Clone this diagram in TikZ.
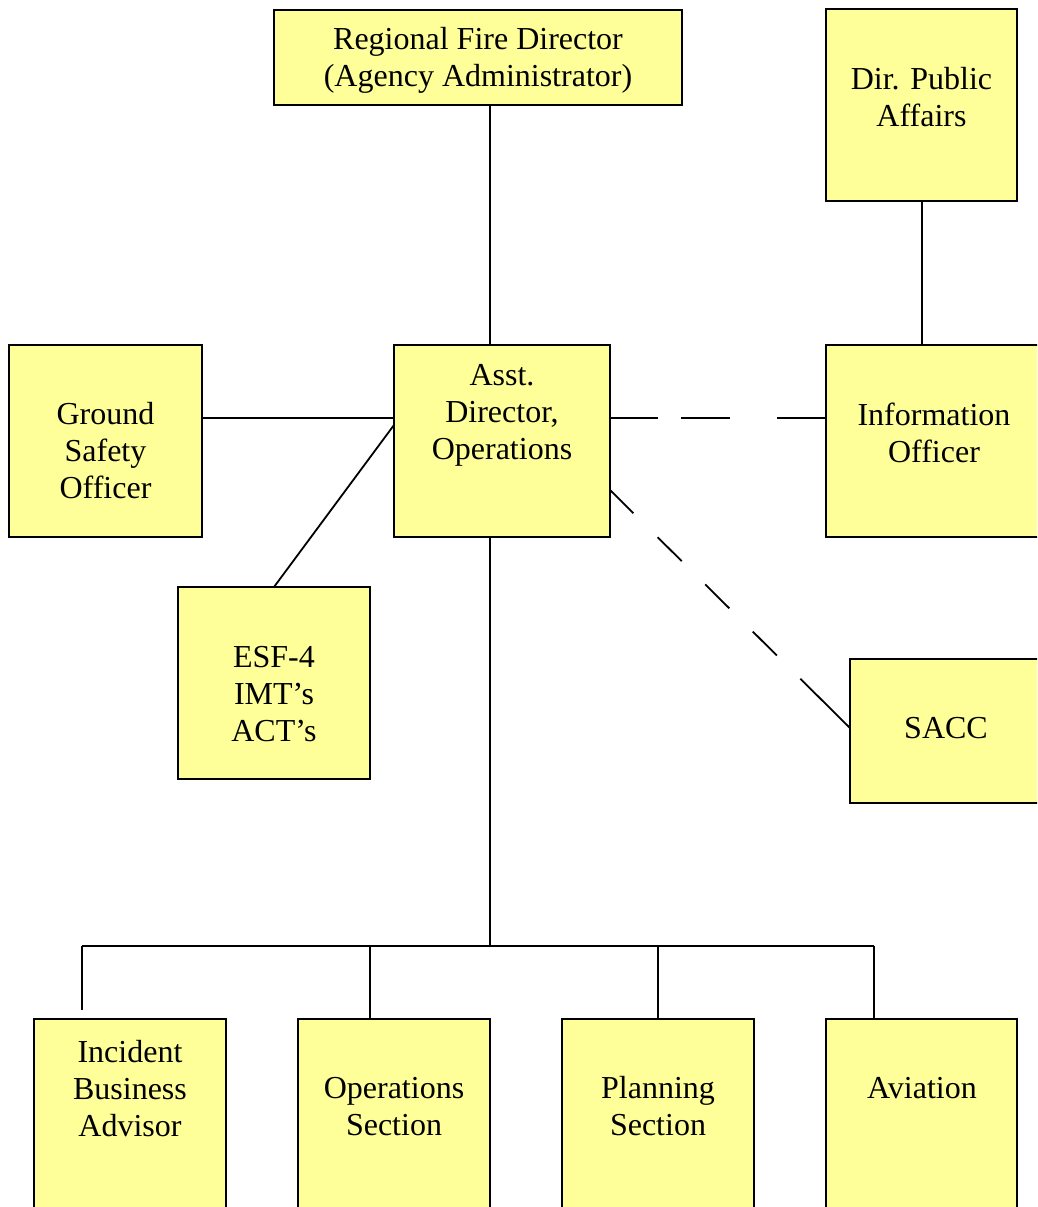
\documentclass[tikz,border=0pt]{standalone}
\usepackage{fontspec}
\setmainfont{Liberation Serif}
\usetikzlibrary{calc}
\definecolor{boxfill}{HTML}{FFFF99}
\begin{document}
\begin{tikzpicture}[x=1pt,y=-1pt,
  box/.style={draw=black, fill=boxfill, line width=2pt, inner sep=0pt, outer sep=0pt},
  txt/.style={align=center, inner sep=0pt, font=\fontsize{32}{37}\selectfont},
  conn/.style={line width=1.8pt},
  dashh/.style={conn, dash pattern=on 48pt off 23pt on 49pt off 47pt on 60pt off 1pt},
  dashd/.style={conn, dash pattern=on 33pt off 34pt on 34pt off 33pt on 34pt off 33pt on 34pt off 33pt on 90pt off 1pt}]
\useasboundingbox (0,0) rectangle (1037,1207);
\clip (0,0) rectangle (1037,1207);
% boxes
\node[box, minimum width=408pt, minimum height=95pt] (rfd) at (478,57.5) {};
\node[box, minimum width=191pt, minimum height=192pt] (dpa) at (921.5,105) {};
\node[box, minimum width=193pt, minimum height=192pt] (gso) at (105.5,441) {};
\node[box, minimum width=216pt, minimum height=192pt] (asst) at (502,441) {};
\node[box, minimum width=224pt, minimum height=192pt] (info) at (938,441) {};
\node[box, minimum width=192pt, minimum height=192pt] (esf) at (274,683) {};
\node[box, minimum width=200pt, minimum height=144pt] (sacc) at (950,731) {};
\node[box, minimum width=192pt, minimum height=201pt] (iba) at (130,1119.5) {};
\node[box, minimum width=192pt, minimum height=201pt] (ops) at (394,1119.5) {};
\node[box, minimum width=192pt, minimum height=201pt] (plan) at (658,1119.5) {};
\node[box, minimum width=191pt, minimum height=201pt] (avi) at (921.5,1119.5) {};
% texts
\node[txt] (trfd) at (478,60.5) {Regional Fire Director\\(Agency Administrator)};
\node[txt] (tdpa) at (921.5,97.5) {Dir. Public\\Affairs};
\node[txt] (tgso) at (105.5,451) {Ground\\Safety\\Officer};
\node[txt] (tasst) at (502,415) {Asst.\\Director,\\Operations};
\node[txt] (tinfo) at (934,432.5) {Information\\Officer};
\node[txt] (tesf) at (274,694.5) {ESF-4\\IMT’s\\ACT’s};
\node[txt] (tsacc) at (946,728) {SACC};
\node[txt] (tiba) at (130,1088.5) {Incident\\Business\\Advisor};
\node[txt] (tops) at (394,1106.5) {Operations\\Section};
\node[txt] (tplan) at (658,1106.5) {Planning\\Section};
\node[txt] (tavi) at (922,1088) {Aviation};
% coordinates
\coordinate (bus) at (490,946);
\coordinate (busL) at (82,946);
\coordinate (busR) at (874,946);
\coordinate (ibaend) at (82,1010);
\coordinate (busops) at (370,946);
\coordinate (busplan) at (658,946);
% connectors
\draw[conn] ([xshift=12pt]rfd.south) -- ([xshift=-12pt]asst.north);
\draw[conn] ([xshift=0.5pt]dpa.south) -- ([xshift=-16pt]info.north);
\draw[conn] ([yshift=23pt]gso.east) -- ([yshift=23pt]asst.west);
\draw[dashh] ([yshift=23pt]asst.east) -- ([yshift=23pt]info.west);
\draw[dashd] ([yshift=-49pt]asst.east) -- ([yshift=3pt]sacc.west);
\draw[conn] ([yshift=16pt]asst.west) -- (esf.north);
\draw[conn] ([xshift=-12pt]asst.south) -- (bus);
\draw[conn] (busL) -- (busR);
\draw[conn] (busL) -- (ibaend);
\draw[conn] (busops) -- ([xshift=-24pt]ops.north);
\draw[conn] (busplan) -- (plan.north);
\draw[conn] (busR) -- ([xshift=-47.5pt]avi.north);
\end{tikzpicture}
\end{document}
